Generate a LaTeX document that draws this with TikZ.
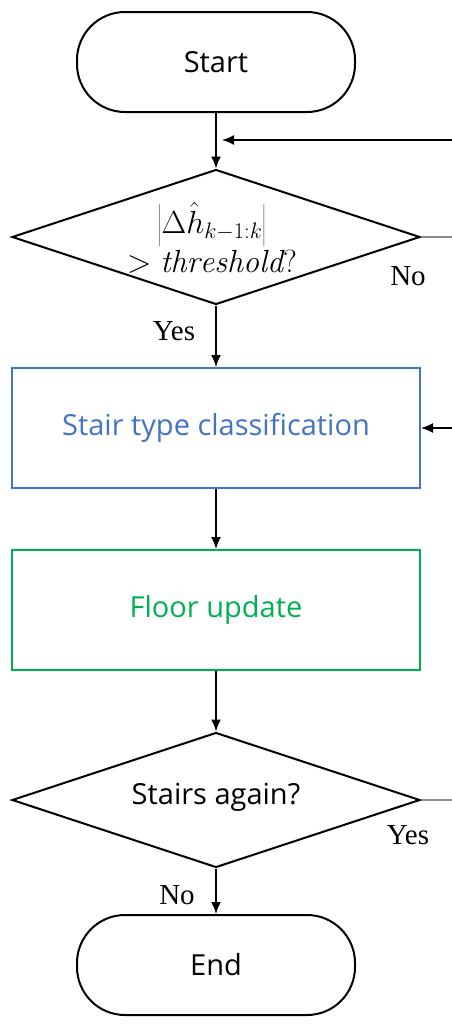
\RequirePackage{fix-cm}
\documentclass[tikz,border=0pt]{standalone}
\usepackage{fontspec}
\setsansfont{Open Sans}
\newfontfamily\labelfont{Liberation Serif}
\usetikzlibrary{shapes.geometric,arrows.meta}
\definecolor{boxblue}{RGB}{68,114,196}
\definecolor{boxgreen}{RGB}{0,176,80}
\begin{document}
\begin{tikzpicture}[x=1pt,y=-1pt,
  boxfont/.style={font=\sffamily\fontsize{29}{34}\selectfont},
  terminal/.style={draw,line width=2pt,rounded corners=48pt,minimum width=278pt,minimum height=100pt,boxfont},
  decision/.style={draw,diamond,line width=2pt,minimum width=408pt,minimum height=135pt,inner sep=0pt},
  process/.style={draw,line width=2pt,minimum width=408pt,minimum height=120pt,boxfont},
  flow/.style={line width=1.8pt,-{Latex[length=12pt,width=10pt]}},
  feed/.style={line width=1.4pt,-{Latex[length=12pt,width=10pt]}},
  stub/.style={line width=1.2pt,draw=black!45},
  tag/.style={font=\labelfont\fontsize{29}{32}\selectfont}]
\useasboundingbox (0,0) rectangle (452,1026);
\node[terminal] (start) at (216,62) {Start};
\node[decision] (cond) at (216,237) {};
\node (condtext) at (212,243) {\fontsize{32}{37}\selectfont$\begin{array}{c}\left|\Delta\hat{h}_{k-1:k}\right|\\[0pt] >\mathit{threshold}?\end{array}$};
\node[process,draw=boxblue,text=boxblue] (classify) at (216,428) {Stair type classification};
\node[process,draw=boxgreen,text=boxgreen] (floor) at (216,610) {Floor update};
\node[decision] (again) at (216,800) {};
\node[boxfont] (againtext) at (216,797) {Stairs again?};
\node[terminal] (end) at (216,965) {End};

\coordinate (loopA) at (452,140);
\coordinate (loopAend) at (222,140);
\coordinate (loopB) at (452,428);
\coordinate (condR) at (452,237);
\coordinate (againR) at (452,800);

\draw[flow] (start.south) -- (cond.north);
\draw[feed] (loopA) -- (loopAend);
\draw[flow] (cond.south) -- (classify.north);
\draw[feed] (loopB) -- (classify.east);
\draw[flow] (classify.south) -- (floor.north);
\draw[flow] (floor.south) -- (again.north);
\draw[flow] (again.south) -- (end.north);
\draw[stub] (cond.east) -- (condR);
\draw[stub] (again.east) -- (againR);

\node[tag] at (408,276) {No};
\node[tag] at (174,331) {Yes};
\node[tag] at (408,835) {Yes};
\node[tag] at (177,895) {No};
\end{tikzpicture}
\end{document}
